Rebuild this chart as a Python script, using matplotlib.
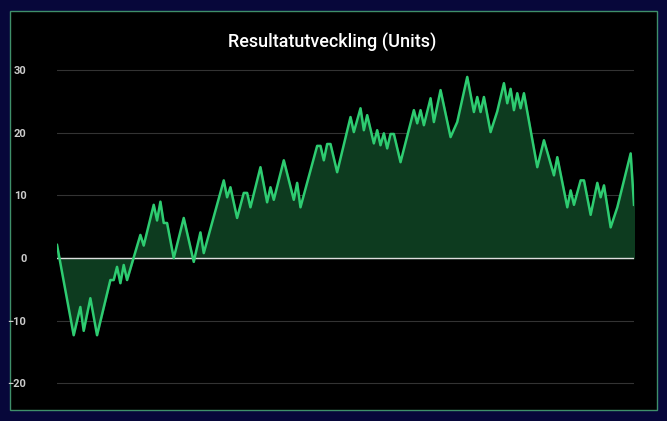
import matplotlib
matplotlib.use("Agg")
import matplotlib.pyplot as plt
from matplotlib.patches import Rectangle

bets = [0,5,7,8,10,12,16,17,18,19,20,21,25,26,29,30,31,32,33,35,38,41,43,44,50,51,52,54,56,57,58,
        61,63,64,65,68,71,72,73,78,79,80,81,82,84,88,89,91,92,93,95,96,97,98,99,100,101,103,107,108,
        109,110,112,113,115,118,120,123,125,126,127,128,130,132,134,135,136,137,138,139,140,142,144,
        146,149,150,153,154,155,157,158,160,162,163,164,166,168,170,172,173]
units = [2.1,-12.3,-7.8,-11.6,-6.4,-12.3,-3.5,-3.5,-1.4,-4,-1.1,-3.5,3.7,2,8.5,6,9,5.6,5.6,0,6.4,-0.6,4.1,0.8,12.4,9.7,11.3,6.4,10.4,10.4,8.1,
         14.5,8.9,11.3,9.3,15.6,9.3,12,8.1,17.9,17.9,15.6,18.2,18.2,13.7,22.5,20.1,23.9,20.4,22.8,18.3,20.4,18,19.9,17.5,19.8,19.8,15.3,23.6,21.5,
         23.6,21.2,25.5,21.7,26.8,19.3,21.7,28.9,23.3,25.7,23.3,25.7,20.1,23.4,27.9,24.7,27,23.6,26.3,23.9,26.3,20.4,14.5,
         18.8,13.2,16.1,8.1,10.8,8.5,12.4,12.4,6.9,12,9.7,11.6,4.9,8.1,12.4,16.7,8.5]
yticks = [-20, -10, 0, 10, 20, 30]

W, H = 667, 421
fig = plt.figure(figsize=(W/100, H/100), dpi=100)
fig.patch.set_facecolor("#07073a")
fig.patches.append(Rectangle((10/W, 11/H), 647/W, 399/H, transform=fig.transFigure,
                             facecolor="black", edgecolor="#3f8f6a", linewidth=1.0, zorder=-5))
ax = fig.add_axes([57/W, 1-396/H, 577/W, 338.5/H], zorder=2)
ax.set_facecolor("black")
ax.set_xlim(0, 173)
ax.set_ylim(-22, 32)
ax.fill_between(bets, units, 0, color="#0d3b1f", zorder=2)
ax.plot(bets, units, color="#2ecc71", linewidth=1.8, zorder=4)
ax.set_yticks(yticks)
ax.set_yticklabels([str(t).replace("-", "−") for t in yticks], color="#cccccc",
                   fontsize=8, fontweight="bold", fontfamily="Roboto")
ax.set_xticks([])
ax.tick_params(axis="y", length=0, pad=22)
for t in yticks:
    ax.axhline(t, color="#dddddd" if t == 0 else "#333333", linewidth=1.0 if t == 0 else 0.8,
               zorder=3 if t == 0 else 1)
for s in ax.spines.values():
    s.set_visible(False)
fig.text(332/W, 1-42/H, "Resultatutveckling (Units)", color="white", fontsize=13,
         fontfamily="Roboto", fontweight="medium", ha="center", va="center")
fig.savefig("out.png", dpi=100, facecolor=fig.get_facecolor())
